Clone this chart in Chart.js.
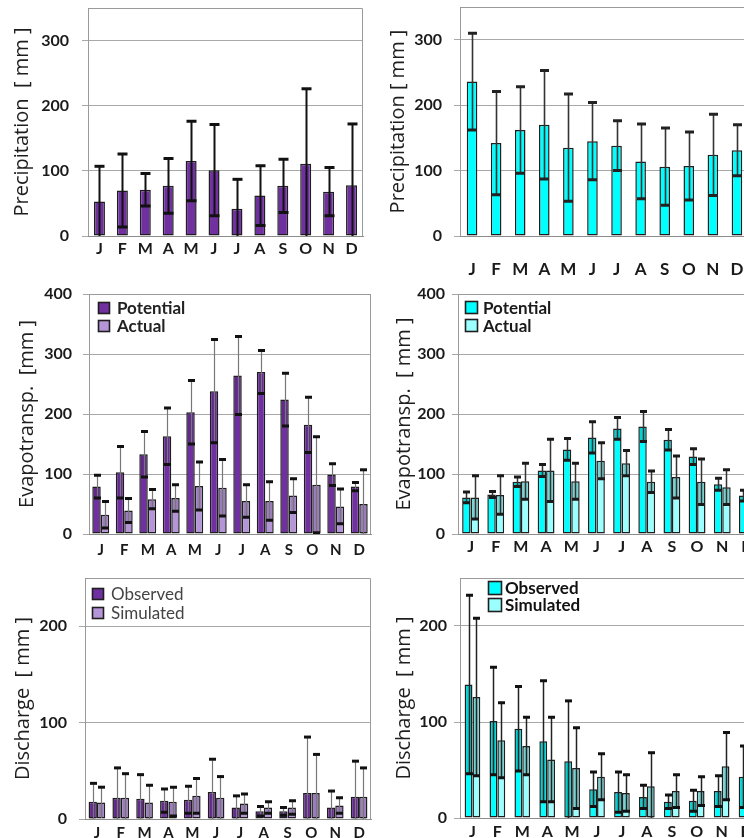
<!DOCTYPE html>
<html><head><meta charset="utf-8">
<script src="https://cdn.jsdelivr.net/npm/chart.js@4/dist/chart.umd.min.js"></script>
<style>
html,body{margin:0;padding:0;background:#fff;overflow:hidden;}
#wrap{position:relative;width:744px;height:838px;overflow:hidden;background:#fff;}
canvas{position:absolute;}
</style></head><body>
<div id="wrap">
<canvas id="c1"></canvas><canvas id="c2"></canvas>
<canvas id="c3"></canvas><canvas id="c4"></canvas>
<canvas id="c5"></canvas><canvas id="c6"></canvas>
</div>
<script>
// ---------- data ----------
const months = ['J','F','M','A','M','J','J','A','S','O','N','D'];

const precipLeft      = [53, 70, 71, 77, 115, 101, 42, 62, 77, 111, 68, 78];
const precipLeftErr   = [54, 56, 25, 42, 61, 70, 45, 46, 41, 115, 37, 94];
const precipRight     = [236, 142, 162, 170, 135, 145, 138, 114, 106, 107, 124, 131];
const precipRightErr  = [74, 79, 66, 83, 82, 59, 38, 57, 59, 52, 62, 39];

const etPotLeft       = [79, 103, 133, 163, 203, 238, 264, 270, 224, 182, 99, 79];
const etPotLeftErr    = [19, 43, 38, 47, 53, 86, 65, 36, 44, 46, 18, 7];
const etActLeft       = [32, 39, 58, 60, 80, 77, 55, 55, 64, 82, 46, 50];
const etActLeftErr    = [22, 20, 16, 22, 40, 47, 27, 32, 28, 80, 29, 57];

const etPotRight      = [61, 66, 87, 106, 141, 161, 176, 179, 157, 129, 83, 64];
const etPotRightErr   = [9, 5, 8, 10, 18, 26, 18, 25, 17, 13, 10, 9];
const etActRight      = [61, 65, 88, 106, 88, 122, 118, 87, 95, 87, 78, 62];
const etActRightErr   = [36, 32, 30, 52, 30, 30, 21, 18, 35, 38, 29, 20];

const qObsLeft        = [18, 22, 21, 19, 20, 28, 12, 8, 8, 27, 12, 23];
const qObsLeftErr     = [19, 31, 25, 12, 14, 34, 12, 5, 4, 58, 17, 37];
const qSimLeft        = [17, 22, 17, 18, 24, 22, 16, 12, 12, 27, 14, 23];
const qSimLeftErr     = [16, 25, 18, 15, 18, 22, 10, 6, 7, 40, 8, 30];

const qObsRight       = [139, 101, 93, 80, 59, 30, 27, 22, 17, 18, 28, 43];
const qObsRightErr    = [93, 56, 44, 63, 63, 18, 21, 12, 7, 11, 16, 32];
const qSimRight       = [126, 81, 75, 61, 52, 43, 26, 33, 28, 28, 54, 40];
const qSimRightErr    = [82, 39, 30, 44, 42, 24, 19, 35, 17, 15, 35, 25];

// ---------- colours ----------
const PURPLE = '#7030a0', PURPLE_L = '#b496d8';
const CYAN = '#00ffff', CYAN_L = '#9bffff';
const EDGE = '#1e1e1e';

// ---------- plugins ----------
const errorBarPlugin = {
  id: 'errbars',
  afterDatasetsDraw(chart, args, o) {
    const ctx = chart.ctx, ys = chart.scales.y, ca = chart.chartArea;
    ctx.save();
    ctx.beginPath(); ctx.rect(ca.left, ca.top - 2, ca.right - ca.left, ca.bottom - ca.top + 2); ctx.clip();
    chart.data.datasets.forEach((ds, di) => {
      const meta = chart.getDatasetMeta(di);
      meta.data.forEach((bar, i) => {
        const v = ds.data[i], e = ds.errorBars[i];
        const x = Math.round(bar.x) + 0.5, w = bar.width;
        const yHi = ys.getPixelForValue(v + e);
        const yLo = Math.min(ys.getPixelForValue(v - e), ca.bottom + 3);
        const yV = bar.y;
        if (o.shade) {
          ctx.fillStyle = o.shade;
          ctx.fillRect(bar.x - w / 2 + 1.5, yV + 1, w - 3, Math.max(0, Math.min(yLo, ca.bottom) - yV - 1));
        }
        ctx.strokeStyle = o.lineColor; ctx.lineWidth = o.lineWidth;
        ctx.beginPath(); ctx.moveTo(x, yLo); ctx.lineTo(x, yHi); ctx.stroke();
        ctx.strokeStyle = o.capColor; ctx.lineWidth = o.capWidth;
        ctx.beginPath();
        ctx.moveTo(x - o.capLen / 2, yHi); ctx.lineTo(x + o.capLen / 2, yHi);
        if (yLo < ca.bottom - 1) { ctx.moveTo(x - o.capLen / 2, yLo); ctx.lineTo(x + o.capLen / 2, yLo); }
        ctx.stroke();
      });
    });
    ctx.restore();
  }
};

const framePlugin = {
  id: 'frame',
  beforeDatasetsDraw(chart) {
    const ctx = chart.ctx, ca = chart.chartArea;
    ctx.save();
    ctx.strokeStyle = '#9a9a9a'; ctx.lineWidth = 1;
    ctx.beginPath();
    ctx.moveTo(Math.round(ca.left) + 0.5, Math.round(ca.bottom));
    ctx.lineTo(Math.round(ca.left) + 0.5, Math.round(ca.top) + 0.5);
    ctx.lineTo(Math.round(ca.right) - 0.5, Math.round(ca.top) + 0.5);
    ctx.lineTo(Math.round(ca.right) - 0.5, Math.round(ca.bottom));
    ctx.stroke();
    ctx.restore();
  }
};

const boxLegendPlugin = {
  id: 'boxlegend',
  afterDraw(chart, args, o) {
    if (!o.items) return;
    const ctx = chart.ctx, ca = chart.chartArea;
    ctx.save();
    ctx.font = o.font; ctx.textBaseline = 'middle'; ctx.textAlign = 'left';
    o.items.forEach((it, k) => {
      const bx = ca.left + o.dx, by = ca.top + o.dy + k * o.row;
      ctx.fillStyle = it.fill; ctx.fillRect(bx, by, o.box, o.box);
      ctx.strokeStyle = EDGE; ctx.lineWidth = 1.6; ctx.strokeRect(bx + 0.5, by + 0.5, o.box - 1, o.box - 1);
      ctx.fillStyle = o.color; ctx.fillText(it.label, ca.left + o.tx, by + o.box / 2 + 1);
    });
    ctx.restore();
  }
};

// ---------- builder ----------
function panel(id, P, datasets, eb, legend) {
  const cv = document.getElementById(id);
  cv.width = P.w; cv.height = P.h;
  cv.style.left = P.left + 'px'; cv.style.top = P.top + 'px';
  cv.style.width = P.w + 'px'; cv.style.height = P.h + 'px';
  return new Chart(cv, {
    type: 'bar',
    data: { labels: months, datasets },
    plugins: [framePlugin, errorBarPlugin, boxLegendPlugin],
    options: {
      responsive: false, animation: false, devicePixelRatio: 1,
      layout: { padding: { top: P.padTop, right: P.padRight, left: 0, bottom: 0 } },
      plugins: {
        legend: { display: false }, tooltip: { enabled: false },
        errbars: eb, boxlegend: legend || {}
      },
      datasets: { bar: { categoryPercentage: P.cat, barPercentage: 1 } },
      scales: {
        x: {
          offset: true,
          grid: { display: false },
          border: { display: true, color: '#8c8c8c', width: 1 },
          ticks: { font: { family: 'Lato', weight: 'bold', size: P.xFont }, color: '#1a1a1a',
                   padding: P.xPad, maxRotation: 0, autoSkip: false },
          afterFit(s) { s.height = P.xH; s.paddingLeft = 0; s.paddingRight = 0; }
        },
        y: {
          min: 0, max: P.max,
          ticks: { stepSize: 100, font: { family: 'Lato', weight: 'bold', size: 16 }, color: '#1a1a1a', padding: P.yPad },
          grid: { color: '#a8a8a8', lineWidth: 1, tickLength: 6, drawTicks: true },
          border: { display: true, color: '#8c8c8c', width: 1 },
          title: { display: true, text: P.title, font: { family: 'Open Sans', size: 20 }, color: '#1e1e1e',
                   padding: { top: P.titlePad, bottom: 0 } },
          afterBuildTicks(s) { s.ticks = s.ticks.filter(t => t.value % 100 === 0); },
          afterFit(s) { s.width = P.yW; s.paddingTop = 0; s.paddingBottom = 0; }
        }
      }
    }
  });
}

function ds(label, data, err, fill) {
  return { label, data, errorBars: err, backgroundColor: fill, borderColor: EDGE, borderWidth: 1.5, borderSkipped: false };
}

// top-left: precipitation
panel('c1', { left: 0, top: 0, w: 370, h: 280, yW: 88, padTop: 8, padRight: 7, xH: 44, max: 350,
  title: 'Precipitation  [ mm ]', titlePad: 10, yPad: 13, xFont: 16, xPad: -5, cat: 0.48 },
  [ds('Precipitation', precipLeft, precipLeftErr, PURPLE)],
  { lineColor: '#111', lineWidth: 2, capColor: '#111', capWidth: 3, capLen: 10, shade: null });

// top-right: precipitation
panel('c2', { left: 370, top: 0, w: 400, h: 280, yW: 90, padTop: 7, padRight: 21, xH: 44, max: 350,
  title: 'Precipitation [ mm ]', titlePad: 16, yPad: 12, xFont: 17, xPad: 15, cat: 0.44 },
  [ds('Precipitation', precipRight, precipRightErr, CYAN)],
  { lineColor: '#333', lineWidth: 1.6, capColor: '#222', capWidth: 3, capLen: 9, shade: null });

// middle-left: evapotranspiration
panel('c3', { left: 0, top: 280, w: 372, h: 282, yW: 89, padTop: 14, padRight: 1, xH: 28, max: 400,
  title: 'Evapotransp.  [mm ]', titlePad: 15, yPad: 11, xFont: 15, xPad: -1, cat: 0.72 },
  [ds('Potential', etPotLeft, etPotLeftErr, PURPLE), ds('Actual', etActLeft, etActLeftErr, PURPLE_L)],
  { lineColor: '#777', lineWidth: 1.2, capColor: '#111', capWidth: 3, capLen: 7, shade: 'rgba(30,0,50,0.16)' },
  { items: [{ label: 'Potential', fill: PURPLE }, { label: 'Actual', fill: PURPLE_L }],
    dx: 9, dy: 8, box: 12, row: 18, tx: 28, font: 'bold 17px Lato', color: '#222' });

// middle-right: evapotranspiration
panel('c4', { left: 370, top: 280, w: 400, h: 282, yW: 88, padTop: 14, padRight: 10, xH: 28, max: 400,
  title: 'Evapotransp.  [ mm ]', titlePad: 22, yPad: 7, xFont: 16, xPad: -5, cat: 0.67 },
  [ds('Potential', etPotRight, etPotRightErr, CYAN), ds('Actual', etActRight, etActRightErr, CYAN_L)],
  { lineColor: '#333', lineWidth: 1.5, capColor: '#1a1a1a', capWidth: 3, capLen: 7, shade: 'rgba(0,50,50,0.22)' },
  { items: [{ label: 'Potential', fill: CYAN }, { label: 'Actual', fill: CYAN_L }],
    dx: 7, dy: 7, box: 13, row: 18, tx: 25, font: 'bold 17px Lato', color: '#1a1a1a' });

// bottom-left: discharge
panel('c5', { left: 0, top: 562, w: 372, h: 276, yW: 85, padTop: 16, padRight: 1, xH: 19, max: 250,
  title: 'Discharge  [ mm ]', titlePad: 11, yPad: 12, xFont: 15, xPad: -3, cat: 0.70 },
  [ds('Observed', qObsLeft, qObsLeftErr, PURPLE), ds('Simulated', qSimLeft, qSimLeftErr, PURPLE_L)],
  { lineColor: '#777', lineWidth: 1.2, capColor: '#111', capWidth: 3, capLen: 7, shade: 'rgba(30,0,50,0.16)' },
  { items: [{ label: 'Observed', fill: PURPLE }, { label: 'Simulated', fill: PURPLE_L }],
    dx: 7, dy: 10, box: 12, row: 19, tx: 26, font: '17px Lato', color: '#444' });

// bottom-right: discharge
panel('c6', { left: 370, top: 562, w: 400, h: 276, yW: 90, padTop: 16, padRight: 11, xH: 20, max: 250,
  title: 'Discharge  [ mm ]', titlePad: 22, yPad: 7, xFont: 16, xPad: -4, cat: 0.63 },
  [ds('Observed', qObsRight, qObsRightErr, CYAN), ds('Simulated', qSimRight, qSimRightErr, CYAN_L)],
  { lineColor: '#222', lineWidth: 1.5, capColor: '#111', capWidth: 3, capLen: 7, shade: 'rgba(0,50,50,0.22)' },
  { items: [{ label: 'Observed', fill: CYAN }, { label: 'Simulated', fill: CYAN_L }],
    dx: 28, dy: 3, box: 14, row: 17, tx: 45, font: 'bold 17px Lato', color: '#111' });
</script>
</body></html>
